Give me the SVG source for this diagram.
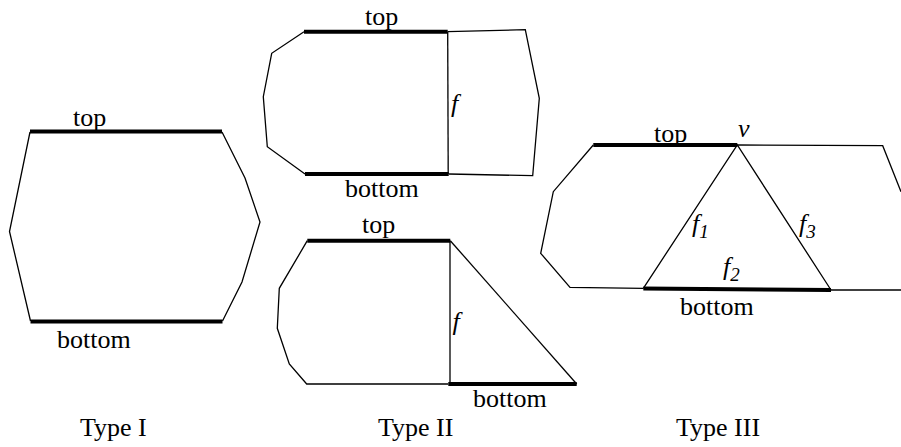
<svg xmlns="http://www.w3.org/2000/svg" width="901" height="447" viewBox="0 0 901 447">
<style>
.thin{fill:none;stroke:#000;stroke-width:1.3;stroke-linejoin:miter}
.thick{fill:none;stroke:#000;stroke-width:4}
text{font-family:"Liberation Serif","Times New Roman","DejaVu Serif",serif;font-size:26px;fill:#000}
.it{font-style:italic}
.sub{font-size:19px}
</style>
<rect width="901" height="447" fill="#fff"/>
<g id="type1">
<polyline class="thin" points="222,132 245,178 260,222 242,282 222.5,321"/>
<polyline class="thin" points="30,132 9.5,231.5 30.5,321"/>
<line class="thick" x1="30" y1="131.5" x2="222" y2="131.5"/>
<line class="thick" x1="30.5" y1="321.5" x2="222.5" y2="321.5"/>
<text x="73" y="126">top</text>
<text x="57" y="348">bottom</text>
<text x="80" y="436">Type I</text>
</g>
<g id="type2a">
<polyline class="thin" points="447.7,31.7 525.3,29.7 539.3,98.3 532.7,175.7 448.7,174"/>
<polyline class="thin" points="305,174 267.3,146.7 263.3,96.7 271.7,53.3 304,31.7"/>
<line class="thin" x1="447.7" y1="31.7" x2="448.2" y2="174"/>
<line class="thick" x1="304" y1="31.7" x2="447.7" y2="31.7"/>
<line class="thick" x1="305" y1="174" x2="448.7" y2="174"/>
<text x="365" y="25">top</text>
<text x="345" y="197">bottom</text>
<text class="it" x="451" y="112">f</text>
</g>
<g id="type2b">
<polyline class="thin" points="450.3,240.7 576.7,384"/>
<polyline class="thin" points="448.3,384 306.7,384 289.3,364 277.3,328.3 279.3,288.3 307.3,240.7"/>
<line class="thin" x1="450" y1="240.7" x2="450" y2="384"/>
<line class="thick" x1="307.3" y1="240.7" x2="450.3" y2="240.7"/>
<line class="thick" x1="448.3" y1="384" x2="576.7" y2="384"/>
<text x="362" y="233">top</text>
<text x="473" y="407">bottom</text>
<text class="it" x="452.5" y="330">f</text>
<text x="378" y="436">Type II</text>
</g>
<g id="type3">
<polyline class="thin" points="737.3,145 882.7,145.7 901,191.7"/>
<polyline class="thin" points="593.3,145 553.3,191.7 540.7,253.3 570,287.3 643.3,288.3"/>
<line class="thin" x1="831" y1="290" x2="901" y2="290"/>
<polyline class="thin" points="643.3,288.3 737.3,145 831,290"/>
<line class="thick" x1="593.3" y1="145" x2="737.3" y2="145"/>
<line class="thick" x1="643.3" y1="288.5" x2="831" y2="290"/>
<text x="654" y="142">top</text>
<text class="it" x="738" y="137">v</text>
<text class="it" x="692" y="232">f<tspan class="sub" dy="6">1</tspan></text>
<text class="it" x="799" y="232">f<tspan class="sub" dy="6">3</tspan></text>
<text class="it" x="723" y="275">f<tspan class="sub" dy="6">2</tspan></text>
<text x="680" y="315">bottom</text>
<text x="676" y="436">Type III</text>
</g>
</svg>
